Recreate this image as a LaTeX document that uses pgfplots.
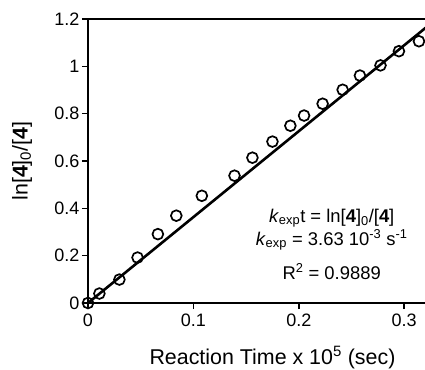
\documentclass[border=0pt]{standalone}
\usepackage{fontspec}
\setmainfont{Liberation Sans}
\usepackage{pgfplots}
\pgfplotsset{compat=1.18}
\begin{document}
\begin{tikzpicture}
\useasboundingbox (-88pt,-66pt) rectangle (337pt,303pt);
\begin{axis}[
  scale only axis, width=368.9pt, height=284pt,
  xmin=0, xmax=0.35, ymin=0, ymax=1.2,
  xtick={0,0.1,0.2,0.3}, xticklabels={0,0.1,0.2,0.3},
  ytick={0,0.2,0.4,0.6,0.8,1,1.2}, yticklabels={0,0.2,0.4,0.6,0.8,1,1.2},
  tick align=outside, xtick pos=bottom, ytick pos=left,
  major tick length=6pt,
  axis line style={line width=2pt},
  every tick/.style={black, line width=1.5pt},
  tick label style={font=\fontsize{18}{21}\selectfont},
  xticklabel style={yshift=-1pt},
  yticklabel style={xshift=1pt},
  every axis x label/.style={at={(rel axis cs:0.5,0)}, yshift=-61pt, anchor=base, font=\fontsize{21.4}{25}\selectfont},
  every axis y label/.style={at={(rel axis cs:0,0.5)}, xshift=-66pt, rotate=90, anchor=center, font=\fontsize{21.4}{25}\selectfont},
  xlabel={Reaction Time x 10\textsuperscript{5} (sec)},
  ylabel={ln[\textbf{4}]\textsubscript{0}/[\textbf{4}]},
]
\addplot[black, line width=2.6pt] coordinates {(0,0) (0.35,1.2705)};
\addplot[only marks, mark=o, mark size=5.4pt, mark options={line width=1.7pt, black}] coordinates {
(0,0) (0.0108,0.040) (0.0298,0.099) (0.047,0.192) (0.0663,0.291) (0.0838,0.369)
(0.108,0.453) (0.139,0.538) (0.156,0.614) (0.175,0.682) (0.192,0.749)
(0.205,0.792) (0.2226,0.842) (0.2416,0.901) (0.258,0.961) (0.2775,1.004)
(0.295,1.064) (0.314,1.106)
};
\node[anchor=base, font=\fontsize{18.4}{22}\selectfont] at (axis cs:0.2312,0.342) {\textit{k}\textsubscript{exp}t = ln[\textbf{4}]\textsubscript{0}/[\textbf{4}]};
\node[anchor=base, font=\fontsize{18.4}{22}\selectfont] at (axis cs:0.2312,0.2445) {\textit{k}\textsubscript{exp} = 3.63 10\textsuperscript{-3} s\textsuperscript{-1}};
\node[anchor=base, font=\fontsize{18.4}{22}\selectfont] at (axis cs:0.2312,0.1004) {R\textsuperscript{2} = 0.9889};
\end{axis}
\end{tikzpicture}
\end{document}
